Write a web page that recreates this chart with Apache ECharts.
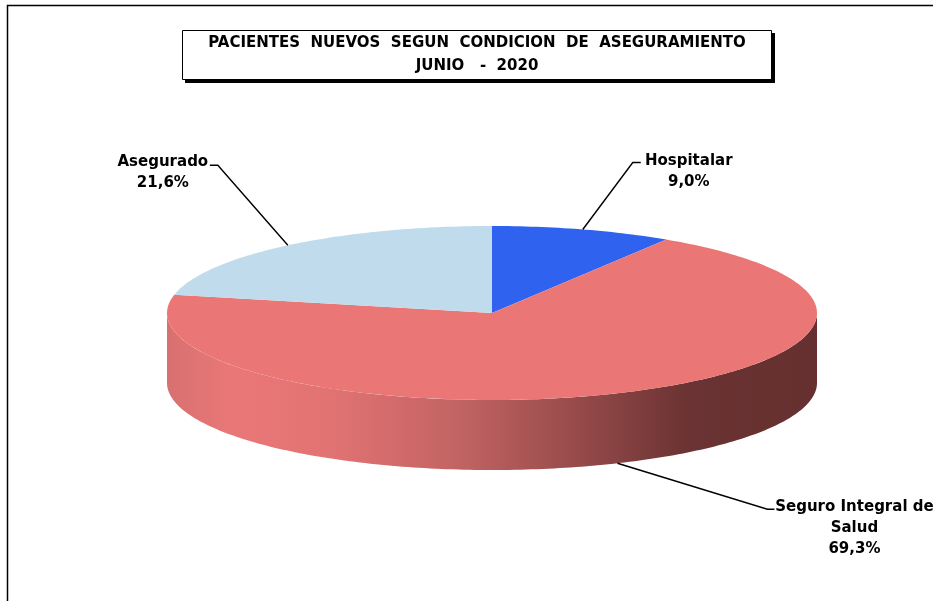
<!DOCTYPE html>
<html>
<head>
<meta charset="utf-8">
<script src="https://cdn.jsdelivr.net/npm/echarts@6/dist/echarts.min.js"></script>
<style>
html, body { margin: 0; padding: 0; background: #fff; }
#chart { width: 933px; height: 601px; }
</style>
</head>
<body>
<div id="chart"></div>
<script>
// datos (clockwise from 12 o'clock)
var categories = ['Hospitalar', 'Seguro Integral de Salud', 'Asegurado']
var labelNames = ['Hospitalar', 'Seguro Integral de\nSalud', 'Asegurado']
var percentValues = [9.0, 69.3, 21.6]
var titleLines = ['PACIENTES  NUEVOS  SEGUN  CONDICION  DE  ASEGURAMIENTO', 'JUNIO   -  2020']

// layout of the fake 3D pie
var cx = 492, cy = 313, rx = 325, ry = 87, depth = 70
var topColors = ['#3062F0', '#EB7676', '#C0DCEC']
var sideColors = ['#1F3F9E', null, '#7E93A0']
// label line: elbow offset from anchor, hook length, text centre offset from hook end
var labelLayout = [
  { elbow: [50, -67], hook: 8, text: [48, 9] },
  { elbow: [150, 46], hook: 7, text: [80, 19] },
  { elbow: [-70, -80], hook: -8, text: [-47, 7] }
]
var labelFont = 'bold 15px "DejaVu Sans", sans-serif'

function pt(deg, dy) {
  var r = deg * Math.PI / 180
  return [cx + rx * Math.cos(r), cy - ry * Math.sin(r) + dy]
}
function arc(from, to, dy) {
  var pts = []
  var n = Math.max(2, Math.ceil(Math.abs(to - from)))
  for (var k = 0; k <= n; k++) pts.push(pt(from + (to - from) * k / n, dy))
  return pts
}
function sideFill(i) {
  if (sideColors[i]) return sideColors[i]
  return {
    type: 'linear', global: true,
    x: cx - rx, y: 0, x2: cx + rx, y2: 0,
    colorStops: [
      { offset: 0, color: '#D87070' },
      { offset: 0.1, color: '#EA7777' },
      { offset: 0.25, color: '#E27373' },
      { offset: 0.45, color: '#C26363' },
      { offset: 0.62, color: '#9A4C4C' },
      { offset: 0.8, color: '#6B3333' },
      { offset: 1, color: '#65302F' }
    ]
  }
}

var total = percentValues.reduce(function (a, b) { return a + b }, 0)

function renderItem(params, api) {
  var i = params.dataIndex
  var before = 0
  for (var k = 0; k < i; k++) before += percentValues[k]
  var a0 = 90 - before / total * 360
  var a1 = a0 - api.value(0) / total * 360
  var children = []
  // front wall (only where the rim faces the viewer)
  ;[-360, 0, 360].forEach(function (off) {
    var lo = Math.max(a1, -180 + off)
    var hi = Math.min(a0, off)
    if (hi > lo) {
      children.push({
        type: 'polygon',
        shape: { points: arc(lo, hi, 0).concat(arc(hi, lo, depth)) },
        style: { fill: sideFill(i) }
      })
    }
  })
  // top face
  children.push({
    type: 'polygon',
    shape: { points: [[cx, cy]].concat(arc(a0, a1, 0)) },
    style: { fill: topColors[i] }
  })
  // label + leader line
  var mid = (a0 + a1) / 2
  var anchor = pt(mid, Math.sin(mid * Math.PI / 180) < 0 ? depth : 0)
  var L = labelLayout[i]
  var elbow = [anchor[0] + L.elbow[0], anchor[1] + L.elbow[1]]
  var hookEnd = [elbow[0] + L.hook, elbow[1]]
  children.push({
    type: 'polyline',
    z2: 10,
    shape: { points: [anchor, elbow, hookEnd] },
    style: { stroke: '#000', lineWidth: 1.4, fill: null }
  })
  children.push({
    type: 'text',
    z2: 10,
    x: hookEnd[0] + L.text[0],
    y: hookEnd[1] + L.text[1],
    style: {
      text: labelNames[i] + '\n' + api.value(0).toFixed(1).replace('.', ',') + '%',
      font: labelFont,
      fill: '#000',
      align: 'center',
      verticalAlign: 'middle',
      lineHeight: 21
    }
  })
  return { type: 'group', children: children }
}

var myChart = echarts.init(document.getElementById('chart'))
var option = {
  backgroundColor: '#fff',
  animation: false,
  graphic: [
    {
      type: 'rect',
      shape: { x: 7.5, y: 5.5, width: 1000, height: 700 },
      style: { fill: '#fff', stroke: '#000', lineWidth: 1.5 },
      z: -1
    },
    {
      // title shadow
      type: 'rect',
      shape: { x: 185, y: 33, width: 590, height: 50 },
      style: { fill: '#000' },
      z: 4
    },
    {
      type: 'rect',
      shape: { x: 182.5, y: 30.5, width: 589, height: 49 },
      style: { fill: '#fff', stroke: '#000', lineWidth: 1 },
      z: 5
    },
    {
      type: 'text',
      x: 477,
      y: 55,
      z: 6,
      style: {
        text: titleLines.join('\n'),
        font: 'bold 15px "DejaVu Sans", sans-serif',
        fill: '#000',
        align: 'center',
        verticalAlign: 'middle',
        lineHeight: 23
      }
    }
  ],
  series: [
    {
      type: 'custom',
      coordinateSystem: 'none',
      renderItem: renderItem,
      data: percentValues.map(function (v, i) { return { name: categories[i], value: [v] } })
    }
  ]
}
myChart.setOption(option)
</script>
</body>
</html>
